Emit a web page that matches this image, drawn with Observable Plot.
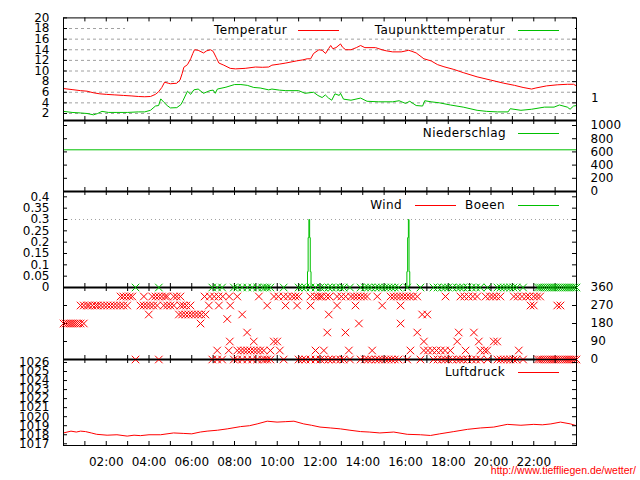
<!DOCTYPE html>
<html><head><meta charset="utf-8">
<script src="https://cdn.jsdelivr.net/npm/d3@7"></script>
<script src="https://cdn.jsdelivr.net/npm/@observablehq/plot@0.6"></script>
<style>
html,body{margin:0;padding:0;background:#fff;}
#chart{position:relative;width:640px;height:480px;overflow:hidden;font-family:"DejaVu Sans",sans-serif;background:#fff;}
#chart svg{position:absolute;left:0;top:0;overflow:visible;}
.leg{position:absolute;font-size:12px;line-height:14px;white-space:nowrap;color:#000;letter-spacing:0.4px;}
.key{position:absolute;height:0;border-top:1px solid;width:41px;}
</style></head><body><div id="chart"></div><script>
// ---------- data (hours since midnight) ----------
const temperature = [[0,6.7],[0.4,6.5],[0.8,6.3],[1.1,6.2],[1.4,5.9],[1.7,5.7],[2.0,5.6],[2.4,5.5],[2.8,5.4],[3.2,5.3],[3.5,5.2],[3.8,5.15],[4.07,5.2],[4.3,5.6],[4.45,6.1],[4.6,6.9],[4.73,7.9],[4.9,7.7],[5.0,7.6],[5.3,7.7],[5.45,8.3],[5.55,9.5],[5.63,10.7],[5.8,11.2],[5.95,12.3],[6.05,13.3],[6.13,14.0],[6.3,13.9],[6.55,13.4],[6.7,13.8],[6.88,14.0],[7.0,13.7],[7.15,12.5],[7.27,11.5],[7.5,11.1],[7.8,10.5],[8.05,10.4],[8.5,10.5],[8.98,10.75],[9.3,10.7],[9.6,10.75],[9.75,11.1],[10.1,11.3],[10.4,11.5],[10.9,11.9],[11.2,12.1],[11.4,12.3],[11.56,12.3],[11.7,13.3],[11.95,14.0],[12.1,13.9],[12.26,13.3],[12.4,14.2],[12.5,14.8],[12.6,14.2],[12.75,14.4],[12.96,15.1],[13.05,14.5],[13.2,14.0],[13.45,14.0],[13.7,14.4],[13.9,14.8],[14.1,14.4],[14.6,14.4],[14.9,14.0],[15.1,13.8],[15.4,13.6],[15.8,13.6],[16.15,13.9],[16.3,13.7],[16.5,13.4],[16.86,12.3],[17.2,11.9],[17.5,11.2],[17.8,10.8],[18.26,10.3],[18.7,9.7],[19.35,8.9],[19.98,8.3],[20.6,7.7],[21.1,7.3],[21.5,6.9],[21.9,6.6],[22.1,6.8],[22.6,7.2],[23.1,7.4],[23.57,7.5],[23.86,7.5],[24,7.2]];
const dewPoint = [[0,2.4],[0.4,2.2],[0.8,2.1],[1.1,2.0],[1.4,1.75],[1.6,2.0],[1.8,2.4],[2.1,2.2],[2.5,2.2],[3.0,2.2],[3.5,2.3],[3.8,2.3],[4.07,2.6],[4.3,3.4],[4.45,3.5],[4.55,4.75],[4.7,4.1],[4.85,3.5],[5.0,3.05],[5.3,3.1],[5.5,3.7],[5.6,4.5],[5.8,6.2],[5.95,5.6],[6.1,6.45],[6.3,6.6],[6.55,5.8],[6.85,6.3],[7.0,6.4],[7.1,5.8],[7.2,6.6],[7.6,6.95],[8.0,7.45],[8.3,7.45],[8.6,7.3],[8.9,6.9],[9.2,6.8],[9.6,6.45],[9.75,6.6],[10.1,6.4],[10.4,6.3],[11.0,6.3],[11.3,5.8],[11.7,6.0],[11.9,5.4],[12.1,5.0],[12.25,5.5],[12.4,4.9],[12.55,4.5],[12.7,5.7],[12.9,5.4],[12.96,5.8],[13.1,4.7],[13.45,4.5],[13.9,4.9],[14.2,4.3],[14.75,4.2],[15.4,4.2],[15.7,4.4],[16.0,3.9],[16.2,4.3],[16.5,3.5],[16.8,3.4],[16.9,4.4],[17.2,4.2],[17.6,4.0],[18.1,3.6],[18.7,3.2],[19.35,2.6],[19.8,2.4],[20.3,2.3],[20.8,2.3],[20.9,2.9],[21.4,2.6],[21.9,2.8],[22.5,3.2],[22.95,3.2],[23.2,3.6],[23.57,3.2],[23.7,2.8],[23.86,3.4],[24,3.5]];
const rain = [[0,632],[24,632]];
const windSpeed = [[0,0],[24,0]];
const gustSpeed = [[0,0],[11.40,0],[11.43,0.07],[11.46,0.22],[11.50,0.3],[11.53,0.22],[11.56,0.07],[11.6,0],[16.05,0],[16.08,0.07],[16.12,0.22],[16.15,0.3],[16.18,0.07],[16.22,0],[24,0]];
const pressure = [[0,1018.2],[0.35,1018.4],[0.6,1018.3],[0.8,1018.4],[1.03,1018.35],[1.3,1018.2],[1.55,1018.05],[2.04,1017.95],[2.5,1018.0],[2.98,1017.85],[3.3,1017.95],[3.6,1017.9],[4.0,1018.0],[4.54,1018.0],[5.15,1018.2],[5.6,1018.15],[6.0,1018.1],[6.4,1018.3],[6.72,1018.4],[7.2,1018.5],[7.66,1018.65],[8.28,1018.9],[8.7,1019.0],[9.06,1019.2],[9.53,1019.5],[9.99,1019.4],[10.4,1019.45],[10.78,1019.5],[11.24,1019.2],[11.6,1019.05],[12.0,1018.85],[12.5,1018.75],[12.96,1018.65],[13.4,1018.5],[13.9,1018.35],[14.3,1018.3],[14.8,1018.2],[15.45,1018.3],[16.08,1018.05],[16.7,1018.0],[17.17,1017.92],[17.6,1018.1],[18.26,1018.35],[18.9,1018.6],[19.5,1018.75],[20.13,1018.85],[20.76,1019.15],[21.4,1019.05],[22.0,1019.15],[22.4,1019.1],[22.8,1019.2],[23.25,1019.4],[23.72,1019.2],[24,1019.0]];
// wind direction: times (hours) at which each direction (degrees) was observed
const northTimes = [3.37,4.46,6.96,7.19,7.42,7.97,8.13,8.36,8.6,8.83,9.06,9.3,9.42,9.53,9.68,10.3,11.0,11.17,11.32,11.56,11.79,12.02,12.2,12.4,12.55,12.75,12.95,13.1,13.4,13.9,14.1,14.25,14.4,14.6,14.75,14.9,15.05,15.2,15.35,15.5,15.67,16.08,16.7,17.31,17.5,17.7,17.85,18.0,18.2,18.4,18.55,18.7,18.9,19.1,19.3,19.5,19.84,20.3,20.45,20.6,20.75,20.9,21.05,21.2,21.5,22.2,22.3,22.4,22.5,22.6,22.7,22.8,22.9,23.0,23.1,23.2,23.3,23.4,23.5,23.6,23.7,23.8,23.9,24.0];
const dir315 = [2.67,2.8,2.95,3.1,3.22,3.76,4.15,4.3,4.45,4.6,4.75,4.85,5.16,5.3,5.47,6.6,6.85,7.05,7.25,7.45,7.75,8.13,9.14,9.85,10.05,10.3,10.5,10.7,10.85,11.0,11.55,11.75,11.9,12.02,12.1,12.3,12.45,12.8,13.0,13.2,13.45,13.6,13.75,13.9,14.05,14.2,14.68,15.3,15.45,15.6,15.75,15.9,16.05,16.2,16.35,16.55,17.87,18.57,18.75,18.95,19.15,19.35,19.75,19.95,20.1,20.25,20.44,21.07,21.25,21.45,21.65,21.8,22.0,22.15,22.3];
const dir270 = [0.8,0.95,1.1,1.2,1.35,1.5,1.6,1.75,1.9,2.05,2.2,2.35,2.5,2.65,2.8,2.98,3.6,3.75,3.9,4.05,4.2,4.38,4.69,4.85,5.0,5.16,5.47,5.6,5.75,5.94,6.8,7.27,7.8,9.53,10.39,10.93,11.56,12.8,13.66,14.91,15.77,21.85,22.0,23.1,23.25];
const dir225 = [3.99,5.4,5.55,5.7,5.85,6.0,6.15,6.3,6.45,6.64,8.36,12.41,16.78,17.02];
const dir202 = [7.66];
const dir180 = [0,0.1,0.2,0.3,0.4,0.5,0.6,0.7,0.8,0.95,6.41,13.82,15.77];
const dir135 = [8.59,12.34,13.19,16.55,18.49,19.2];
const dir90 = [7.78,8.9,9.84,10.0,16.86,18.42,19.43,20.13,20.29];
const dir45 = [7.19,7.73,8.13,8.3,8.45,8.6,8.75,8.9,9.05,9.2,9.37,9.68,10.12,11.79,12.18,13.35,14.44,16.23,16.86,17.05,17.25,17.45,17.65,17.85,18.1,18.81,19.5,19.7,19.82,21.3];
const tempTicks = [2,4,6,8,10,12,14,16,18,20];
const rainTicks = [0,200,400,600,800,1000];
const windTicks = [0,0.05,0.1,0.15,0.2,0.25,0.3,0.35,0.4];
const dirTicks = [0,90,180,270,360];
const pressTicks = [1017,1018,1019,1020,1021,1022,1023,1024,1025,1026];
const timeTicks = [2,4,6,8,10,12,14,16,18,20,22];

// ---------- layout ----------
const W = 640, H = 480, L = 63, R = 576;
const RED = "#ff0000", GREEN = "#00c000", GRID = "#a0a0a0";
const hours = d3.range(1, 24);
const chart = document.getElementById("chart");
const plain = d => String(d);

function pts(arr) { return arr.map(([x, y]) => ({x, y})); }

function frameMarks(top, bottom, dom, yTicks, thickBottom) {
  const tx = 4 / ((R - L) / 24), ty = 4 / ((bottom - top) / (dom[1] - dom[0]));
  const m = [
    Plot.ruleY(yTicks, {x1: 0, x2: tx, stroke: "#000"}),
    Plot.ruleY(yTicks, {x1: 24 - tx, x2: 24, stroke: "#000"}),
    Plot.ruleX(hours, {y1: dom[0], y2: dom[0] + ty, stroke: "#000"}),
    Plot.ruleX(hours, {y1: dom[1] - ty, y2: dom[1], stroke: "#000"}),
    Plot.frame({stroke: "#000"})
  ];
  if (thickBottom) m.push(Plot.ruleY([dom[0]], {stroke: "#000", strokeWidth: 2}));
  return m;
}

function panel(top, bottom, dom, marks) {
  const svg = Plot.plot({
    width: W, height: H,
    marginLeft: L, marginRight: W - R, marginTop: top, marginBottom: H - bottom,
    x: {domain: [0, 24], axis: null, label: null},
    y: {domain: dom, axis: null, label: null},
    style: {background: "transparent", fontFamily: "DejaVu Sans", fontSize: "12px", color: "#000", overflow: "visible"},
    marks
  });
  chart.appendChild(svg);
}

function yAxis(ticks, anchor, fmt) {
  return Plot.axisY(ticks, {anchor, tickSize: 0, tickPadding: 14, label: null, tickFormat: fmt || plain});
}

// Temperature panel
{
  const top = 17.4, bottom = 120, dom = [0.68, 20];
  panel(top, bottom, dom, [
    Plot.ruleY(tempTicks.filter(d => d < 20), {stroke: GRID, strokeDasharray: "3,3"}),
    Plot.line(pts(temperature), {x: "x", y: "y", stroke: RED, strokeWidth: 1}),
    Plot.line(pts(dewPoint), {x: "x", y: "y", stroke: GREEN, strokeWidth: 1}),
    yAxis(tempTicks, "left"),
    ...frameMarks(top, bottom, dom, tempTicks, true)
  ]);
}
// Precipitation panel
{
  const top = 120, bottom = 191, dom = [0, 1076];
  panel(top, bottom, dom, [
    Plot.line(pts(rain), {x: "x", y: "y", stroke: GREEN, strokeWidth: 1}),
    yAxis(rainTicks, "right"),
    ...frameMarks(top, bottom, dom, rainTicks, true)
  ]);
}
// Wind speed panel
{
  const top = 191, bottom = 287, dom = [0, 0.4235];
  panel(top, bottom, dom, [
    Plot.ruleY([0.3], {stroke: GRID, strokeDasharray: "1,3"}),
    Plot.line(pts(windSpeed), {x: "x", y: "y", stroke: RED, strokeWidth: 1}),
    Plot.line(pts(gustSpeed), {x: "x", y: "y", stroke: GREEN, strokeWidth: 1, curve: "step"}),
    yAxis(windTicks, "left"),
    ...frameMarks(top, bottom, dom, windTicks, true)
  ]);
}
// Wind direction panel
{
  const top = 287, bottom = 359, dom = [0, 360];
  const red = [
    ...northTimes.map(x => ({x, y: 0})),
    ...dir315.map(x => ({x, y: 315})), ...dir270.map(x => ({x, y: 270})),
    ...dir225.map(x => ({x, y: 225})), ...dir202.map(x => ({x, y: 202.5})),
    ...dir180.map(x => ({x, y: 180})), ...dir135.map(x => ({x, y: 135})),
    ...dir90.map(x => ({x, y: 90})), ...dir45.map(x => ({x, y: 45}))
  ];
  const green = northTimes.map(x => ({x, y: 360}));
  panel(top, bottom, dom, [
    ...frameMarks(top, bottom, dom, dirTicks, true),
    Plot.dot(red, {x: "x", y: "y", symbol: "times", r: 3.5, stroke: RED, strokeWidth: 1}),
    Plot.dot(green, {x: "x", y: "y", symbol: "times", r: 3.5, stroke: GREEN, strokeWidth: 1}),
    yAxis(dirTicks, "right")
  ]);
}
// Pressure panel
{
  const top = 359, bottom = 445, dom = [1016.81, 1026.33];
  panel(top, bottom, dom, [
    Plot.line(pts(pressure), {x: "x", y: "y", stroke: RED, strokeWidth: 1}),
    yAxis(pressTicks, "left"),
    Plot.axisX(timeTicks, {anchor: "bottom", tickSize: 0, tickPadding: 12, label: null, tickFormat: h => String(h).padStart(2, "0") + ":00"}),
    ...frameMarks(top, bottom, dom, pressTicks, false)
  ]);
}

// ---------- legends (gnuplot style: right-justified label, then sample line) ----------
function addEl(cls, css, text) {
  const el = document.createElement("div");
  el.className = cls; Object.assign(el.style, css);
  if (text) el.textContent = text;
  chart.appendChild(el); return el;
}
addEl("", {position: "absolute", left: "125px", top: "22px", width: "450px", height: "13px", background: "#fff"});
function legendEntry(label, textRight, keyLeft, y, color) {
  addEl("leg", {right: (W - textRight) + "px", top: (y - 7) + "px"}, label);
  addEl("key", {left: keyLeft + "px", top: y + "px", borderColor: color});
}
legendEntry("Temperatur", 287, 298, 30, RED);
legendEntry("Taupunkttemperatur", 505, 518, 30, GREEN);
legendEntry("Niederschlag", 506, 518, 133, GREEN);
legendEntry("Wind", 402, 415, 205, RED);
legendEntry("Boeen", 505, 518, 205, GREEN);
legendEntry("Luftdruck", 505, 518, 372, RED);
addEl("", {position: "absolute", left: "591px", top: "91px", font: "12px 'DejaVu Sans Mono', monospace"}, "1");
addEl("", {position: "absolute", right: "4px", top: "464px", font: "10.5px 'Liberation Sans', Arial, sans-serif", color: RED}, "http://www.tieffliegen.de/wetter/");
</script></body></html>
